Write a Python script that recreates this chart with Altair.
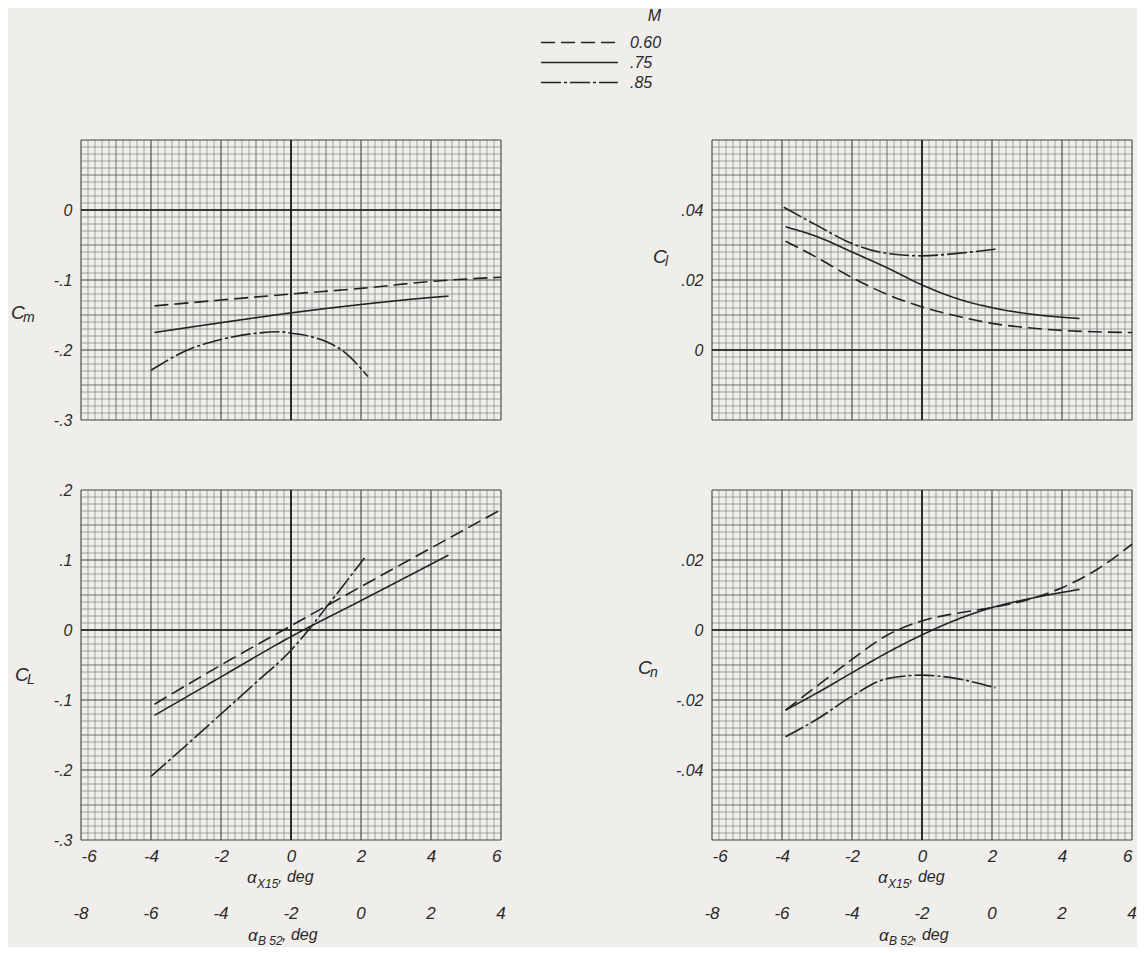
import altair as alt
import pandas as pd

FONT = "Liberation Sans"
INK = "#222222"
TXT = "#2a2a2a"
BG = "#efeeea"

MACH = ["0.60", ".75", ".85"]
DASH = [[14, 6], [1, 0], [20, 3, 3, 3]]

X_TICKS = [-6, -4, -2, 0, 2, 4, 6]
B52_TICKS = [-8, -6, -4, -2, 0, 2, 4]
B52_SHIFT = 2  # alpha_X15 = alpha_B52 + 2

# ---- C_m vs alpha_X15 ----
CM_X_060 = [-3.9, -2.0, 0.0, 2.0, 4.0, 6.0]
CM_Y_060 = [-0.137, -0.1286, -0.120, -0.112, -0.102, -0.096]
CM_X_075 = [-3.9, -2.0, 0.0, 2.0, 4.0, 4.5]
CM_Y_075 = [-0.175, -0.161, -0.147, -0.135, -0.125, -0.123]
CM_X_085 = [-4.0, -3.0, -2.0, -1.0, -0.3, 0.0, 0.5, 1.0, 1.5, 2.2]
CM_Y_085 = [-0.229, -0.201, -0.185, -0.176, -0.174, -0.176, -0.180, -0.188, -0.202, -0.238]

# ---- C_l vs alpha_X15 ----
CR_X_060 = [-3.9, -3.0, -2.0, -1.0, 0.0, 1.0, 2.0, 3.0, 4.0, 6.0]
CR_Y_060 = [0.0311, 0.0264, 0.0207, 0.0159, 0.0123, 0.0097, 0.0076, 0.0064, 0.0056, 0.0050]
CR_X_075 = [-3.9, -3.0, -2.0, -1.0, 0.0, 1.0, 2.0, 3.0, 4.5]
CR_Y_075 = [0.0352, 0.0324, 0.0280, 0.0235, 0.0186, 0.0147, 0.0121, 0.0104, 0.0090]
CR_X_085 = [-3.95, -3.0, -2.0, -1.0, 0.0, 1.0, 2.1]
CR_Y_085 = [0.0408, 0.0356, 0.0304, 0.0276, 0.0269, 0.0276, 0.0288]

# ---- C_L vs alpha_X15 ----
CL_X_060 = [-3.9, -2.0, 0.0, 2.0, 4.0, 6.0]
CL_Y_060 = [-0.106, -0.050, 0.006, 0.062, 0.117, 0.172]
CL_X_075 = [-3.9, -2.0, 0.0, 2.0, 4.5]
CL_Y_075 = [-0.122, -0.067, -0.0095, 0.042, 0.107]
CL_X_085 = [-4.0, -3.0, -2.0, -1.0, 0.0, 0.5, 1.0, 1.5, 2.1]
CL_Y_085 = [-0.209, -0.165, -0.120, -0.075, -0.029, 0.0, 0.032, 0.064, 0.103]

# ---- C_n vs alpha_X15 ----
CN_X_060 = [-3.9, -3.0, -2.0, -1.0, 0.0, 1.0, 2.0, 3.0, 4.0, 5.0, 6.0]
CN_Y_060 = [-0.0229, -0.0160, -0.0084, -0.0015, 0.0026, 0.0048, 0.0064, 0.0086, 0.0121, 0.0173, 0.0245]
CN_X_075 = [-3.9, -3.0, -2.0, -1.0, 0.0, 1.0, 2.0, 3.0, 4.5]
CN_Y_075 = [-0.0229, -0.0180, -0.0122, -0.0065, -0.0014, 0.0030, 0.0064, 0.0088, 0.0116]
CN_X_085 = [-3.9, -3.0, -2.0, -1.0, 0.0, 1.0, 2.1]
CN_Y_085 = [-0.0305, -0.0255, -0.0189, -0.0139, -0.0129, -0.0139, -0.0165]

W = 420
H_TOP = 280
H_BOT = 350

GRID_STYLE = {
    "fine": ("#7a7a7a", 0.65),
    "mid": ("#5c5c5c", 0.85),
    "major": ("#404040", 1.1),
}


def lvl(i):
    if i % 10 == 0:
        return "major"
    if i % 5 == 0:
        return "mid"
    return "fine"


def series_df(xs_list, ys_list):
    rows = []
    for m, xs, ys in zip(MACH, xs_list, ys_list):
        for x, y in zip(xs, ys):
            rows.append({"M": m, "x": x, "y": y})
    return pd.DataFrame(rows)


def txt(s, x, y, size):
    return alt.Chart(pd.DataFrame({"t": [s]})).mark_text(
        font=FONT, fontStyle="italic", fontSize=size, color=TXT,
        align="left", baseline="middle"
    ).encode(text="t:N", x=alt.value(x), y=alt.value(y))


def panel(xs_list, ys_list, ylo, yhi, ystep, yn, yvals, yfmt, height,
          bottom_axis, ysub, tpos):
    xscale = alt.Scale(domain=[-6, 6], nice=False, zero=False)
    yscale = alt.Scale(domain=[ylo, yhi], nice=False, zero=False)

    ylabel = ("datum.value == 0 ? '0' : replace(replace(format(datum.value, '"
              + yfmt + "'), '\u2212', '-'), '0.', '.')")
    yaxis = alt.Axis(values=yvals, labelExpr=ylabel, title=None, labelPadding=9,
                     labelFontSize=16, grid=False, ticks=False, domain=False)
    if bottom_axis:
        xaxis = alt.Axis(values=X_TICKS, labelExpr="'' + datum.value", title=None,
                         labelPadding=8, labelFontSize=17, grid=False,
                         ticks=False, domain=False)
    else:
        xaxis = None

    def X(field):
        return alt.X(field, scale=xscale, axis=xaxis)

    def Y(field):
        return alt.Y(field, scale=yscale, axis=yaxis)

    gx = pd.DataFrame({"v": [-6 + 0.2 * i for i in range(61)],
                       "k": [lvl(i) for i in range(61)]})
    gy = pd.DataFrame({"v": [ylo + ystep * i for i in range(yn + 1)],
                       "k": [lvl(i) for i in range(yn + 1)]})
    layers = []
    for k, (col, w) in GRID_STYLE.items():
        layers.append(
            alt.Chart(gx).transform_filter(alt.datum.k == k)
            .mark_rule(color=col, strokeWidth=w).encode(x=X("v:Q"))
        )
        layers.append(
            alt.Chart(gy).transform_filter(alt.datum.k == k)
            .mark_rule(color=col, strokeWidth=w).encode(y=Y("v:Q"))
        )
    zero = pd.DataFrame({"v": [0]})
    layers.append(alt.Chart(zero).mark_rule(color="#1a1a1a", strokeWidth=1.7)
                  .encode(x=X("v:Q")))
    layers.append(alt.Chart(zero).mark_rule(color="#1a1a1a", strokeWidth=1.7)
                  .encode(y=Y("v:Q")))

    lines = alt.Chart(series_df(xs_list, ys_list)).mark_line(
        color=INK, strokeWidth=1.6, interpolate="monotone"
    ).encode(
        x=X("x:Q"),
        y=Y("y:Q"),
        strokeDash=alt.StrokeDash(
            "M:N", scale=alt.Scale(domain=MACH, range=DASH),
            sort=MACH, legend=alt.Legend(title="M")
        ),
        detail="M:N",
    )
    layers.append(lines)

    tx, ty = tpos
    layers.append(txt("C", tx, ty, 19))
    layers.append(txt(ysub, tx + 12, ty + 5, 14))

    if bottom_axis:
        b52 = alt.Chart(pd.DataFrame({"b": B52_TICKS, "lab": [str(v) for v in B52_TICKS]}))
        layers.append(
            b52.transform_calculate(xp="datum.b + " + str(B52_SHIFT))
            .mark_text(font=FONT, fontStyle="italic", fontSize=17, color=TXT,
                       baseline="middle")
            .encode(x=X("xp:Q"), y=alt.value(height + 74), text="lab:N")
        )
        cx = W / 2
        layers.append(txt("\u03b1", cx - 44, height + 38, 17))
        layers.append(txt("X15", cx - 34, height + 44, 12))
        layers.append(txt(", deg", cx - 13, height + 37, 16))
        layers.append(txt("\u03b1", cx - 43, height + 96, 17))
        layers.append(txt("B 52", cx - 33, height + 101, 12))
        layers.append(txt(", deg", cx - 9, height + 95, 16))

    return alt.layer(*layers).properties(width=W, height=height)


p_cm = panel([CM_X_060, CM_X_075, CM_X_085], [CM_Y_060, CM_Y_075, CM_Y_085],
             -0.3, 0.1, 0.01, 40, [0, -0.1, -0.2, -0.3], ".1f", H_TOP,
             False, "m", (-70, 173))
p_cr = panel([CR_X_060, CR_X_075, CR_X_085], [CR_Y_060, CR_Y_075, CR_Y_085],
             -0.02, 0.06, 0.002, 40, [0, 0.02, 0.04], ".2f", H_TOP,
             False, "l", (-59, 117))
p_cl = panel([CL_X_060, CL_X_075, CL_X_085], [CL_Y_060, CL_Y_075, CL_Y_085],
             -0.3, 0.2, 0.01, 50, [-0.3, -0.2, -0.1, 0, 0.1, 0.2], ".1f", H_BOT,
             True, "L", (-66, 185))
p_cn = panel([CN_X_060, CN_X_075, CN_X_085], [CN_Y_060, CN_Y_075, CN_Y_085],
             -0.06, 0.04, 0.002, 50, [-0.04, -0.02, 0, 0.02], ".2f", H_BOT,
             True, "n", (-74, 178))

chart = alt.ConcatChart(
    concat=[p_cm, p_cr, p_cl, p_cn], columns=2, align="each",
    spacing={"row": 54, "column": 132},
).properties(
    background=BG, padding={"left": 3, "top": 0, "right": 0, "bottom": 0}
).configure_view(stroke=None).configure_axis(
    labelFont=FONT, labelFontStyle="italic", labelColor=TXT
).configure_legend(
    orient="none", legendX=488, legendY=-132, direction="vertical",
    symbolType="M-4,0H4", symbolSize=370, symbolStrokeWidth=1.6,
    symbolStrokeColor=INK,
    labelFont=FONT, labelFontSize=16, labelFontStyle="italic", labelColor=TXT,
    labelOffset=40, titleFont=FONT, titleFontSize=16, titleFontStyle="italic",
    titleFontWeight="normal", titleColor=TXT, titleAnchor="end", titlePadding=8,
    rowPadding=1, padding=0,
)

chart.save("out.html", embed_options={"renderer": "svg", "actions": False})
